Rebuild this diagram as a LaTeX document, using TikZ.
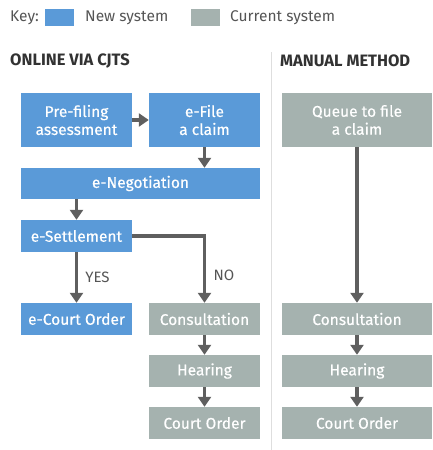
\documentclass[tikz,border=0pt]{standalone}
\usepackage{fontspec}
\setmainfont{Fira Sans}
\newfontfamily\boxfont{Fira Sans}[FakeBold=0.35]
\usetikzlibrary{arrows.meta}
\definecolor{newsys}{RGB}{90,154,216}
\definecolor{cursys}{RGB}{165,178,175}
\definecolor{flow}{RGB}{95,95,95}
\definecolor{keytext}{RGB}{85,85,85}
\definecolor{headtext}{RGB}{50,50,50}
\definecolor{divider}{RGB}{222,222,222}
\begin{document}
\begin{tikzpicture}[x=1pt,y=-1pt,
  box/.style={rectangle,inner sep=0pt,align=center,text=white,
    font=\boxfont\fontsize{15.5}{18}\selectfont},
  newbox/.style={box,fill=newsys},
  curbox/.style={box,fill=cursys},
  tall/.style={minimum height=54pt},
  short/.style={minimum height=32pt},
  narrow/.style={minimum width=111pt},
  wide/.style={minimum width=150pt},
  flowline/.style={draw=flow,line width=3.5pt,line join=miter,
    -{Triangle[width=13pt,length=10pt]}},
  keylabel/.style={anchor=west,inner sep=0pt,text=keytext,
    font=\fontsize{15.5}{17}\selectfont},
  heading/.style={anchor=west,inner sep=0pt,text=headtext,
    font=\fontsize{16.5}{18}\selectfont\bfseries},
  branch/.style={inner sep=0pt,text=keytext,font=\fontsize{15}{17}\selectfont}]
\useasboundingbox (0,0) rectangle (432,450);

% key
\node[keylabel] (key) at (10,18) {Key:};
\node[rectangle,fill=newsys,minimum width=29pt,minimum height=17pt,inner sep=0pt] (keynew) at (59.5,17.5) {};
\node[keylabel] (keynewlbl) at (85,18) {New system};
\node[rectangle,fill=cursys,minimum width=29pt,minimum height=17pt,inner sep=0pt] (keycur) at (205.5,17.5) {};
\node[keylabel] (keycurlbl) at (230,18) {Current system};

% column headings and divider
\node[heading] (online) at (10,61) {ONLINE VIA CJTS};
\node[heading] (manual) at (280,61) {MANUAL METHOD};
\coordinate (divtop) at (271.5,52);
\coordinate (divbot) at (271.5,450);
\draw[divider,line width=1.5pt] (divtop) -- (divbot);

% online flow
\node[newbox,narrow,tall] (pre) at (76.5,120) {Pre-filing\\assessment};
\node[newbox,narrow,tall] (efile) at (204.5,120) {e-File\\a claim};
\node[newbox,minimum width=239pt,minimum height=31pt] (eneg) at (140.5,183.5) {e-Negotiation};
\node[newbox,narrow,short] (eset) at (76.5,236) {e-Settlement};
\node[newbox,narrow,short] (ecourt) at (76.5,319) {e-Court Order};
\node[curbox,narrow,short] (cons) at (204.5,319) {Consultation};
\node[curbox,narrow,short] (hear) at (204.5,371) {Hearing};
\node[curbox,narrow,short] (court) at (204.5,423) {Court Order};

\draw[flowline] (pre) -- (efile);
\draw[flowline] (efile) -- (efile |- eneg.north);
\draw[flowline] (eneg.south -| eset) -- (eset);
\draw[flowline] (eset) -- node[branch,anchor=west,xshift=7pt] {YES} (ecourt);
\draw[flowline] (eset.east) -| (cons);
\node[branch,anchor=west] (no) at ([xshift=9pt]cons.north |- {(0,275)}) {NO};
\draw[flowline] (cons) -- (hear);
\draw[flowline] (hear) -- (court);

% manual flow
\node[curbox,wide,tall] (queue) at (357,120) {Queue to file\\a claim};
\node[curbox,wide,short] (mcons) at (357,319) {Consultation};
\node[curbox,wide,short] (mhear) at (357,371) {Hearing};
\node[curbox,wide,short] (mcourt) at (357,423) {Court Order};

\draw[flowline] (queue) -- (mcons);
\draw[flowline] (mcons) -- (mhear);
\draw[flowline] (mhear) -- (mcourt);
\end{tikzpicture}
\end{document}
